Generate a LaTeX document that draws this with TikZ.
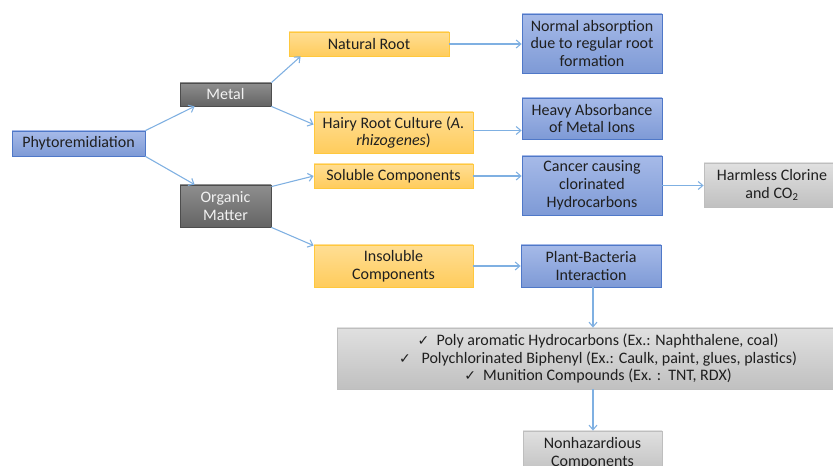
\documentclass[tikz,border=0pt]{standalone}
\usepackage{fontspec}
\setmainfont{Carlito}
\newfontfamily\symfont{DejaVu Sans}
\usetikzlibrary{arrows.meta,calc}
\definecolor{arr}{HTML}{7FB0E2}
\definecolor{bluetop}{HTML}{A6BAE8}
\definecolor{bluebot}{HTML}{7E9AD6}
\definecolor{blueedge}{HTML}{4F78C8}
\definecolor{yeltop}{HTML}{FFDE94}
\definecolor{yelbot}{HTML}{FFCC5C}
\definecolor{yeledge}{HTML}{FFC83D}
\definecolor{dgtop}{HTML}{8E8E8E}
\definecolor{dgbot}{HTML}{646464}
\definecolor{dgedge}{HTML}{4D4D4D}
\definecolor{lgtop}{HTML}{E0E0E0}
\definecolor{lgbot}{HTML}{C0C0C0}
\definecolor{lgedge}{HTML}{BEBEBE}
\newcommand{\chk}{{\symfont\fontsize{10.5pt}{10pt}\selectfont ✓}}
\tikzset{
  basebox/.style={rectangle, inner sep=0pt, align=center, line width=0.6pt,
     font=\fontsize{12pt}{13.3pt}\selectfont},
  bluebox/.style={basebox, draw=blueedge, top color=bluetop, bottom color=bluebot, text=black!88},
  yelbox/.style={basebox, draw=yeledge, top color=yeltop, bottom color=yelbot, text=black!88},
  dgbox/.style={basebox, draw=dgedge, top color=dgtop, bottom color=dgbot, text=white!95!black},
  lgbox/.style={basebox, draw=lgedge, top color=lgtop, bottom color=lgbot, text=black!88},
  conn/.style={draw=arr, line width=0.8pt, -{Straight Barb[length=3.5pt,width=6pt]}}
}
\begin{document}
\begin{tikzpicture}[x=0.75pt,y=-0.75pt]
\useasboundingbox (0,0) rectangle (833,466);
\fill[white] (0,0) rectangle (833,466);
\node[bluebox, minimum width=99.75pt, minimum height=18.75pt] (phyto) at (78.5,143.5) {Phytoremidiation};
\node[dgbox, minimum width=68.25pt, minimum height=17.25pt] (metal) at (225.5,94.5) {Metal};
\node[dgbox, minimum width=68.25pt, minimum height=31.5pt] (organic) at (225.5,206) {Organic\\Matter};
\node[yelbox, minimum width=120pt, minimum height=18pt] (natural) at (369,44) {Natural Root};
\node[yelbox, minimum width=119.25pt, minimum height=30.75pt] (hairy) at (393.5,132.5) {Hairy Root Culture (\textit{A.}\\\textit{rhizogenes})};
\node[yelbox, minimum width=119.25pt, minimum height=18pt] (soluble) at (393.5,176) {Soluble Components};
\node[yelbox, minimum width=119.25pt, minimum height=31.5pt] (insoluble) at (393.5,266) {Insoluble\\Components};
\node[bluebox, minimum width=105pt, minimum height=44.25pt] (normal) at (592,43.5) {Normal absorption\\due to regular root\\formation};
\node[bluebox, minimum width=105pt, minimum height=30.75pt] (heavy) at (592,118.5) {Heavy Absorbance\\of Metal Ions};
\node[bluebox, minimum width=105pt, minimum height=44.25pt] (cancer) at (592,185.5) {Cancer causing\\clorinated\\Hydrocarbons};
\node[lgbox, minimum width=102pt, minimum height=33pt] (harmless) at (772,185) {Harmless Clorine\\and CO\textsubscript{2}};
\node[bluebox, minimum width=105pt, minimum height=31.5pt] (plant) at (591,266) {Plant-Bacteria\\Interaction};
\node[lgbox, minimum width=391.5pt, minimum height=45.75pt] (big) at (598,358.5) {\chk\ \ Poly aromatic Hydrocarbons (Ex.: Naphthalene, coal)\\\chk\ \ \ Polychlorinated Biphenyl (Ex.: Caulk, paint, glues, plastics)\\\chk\ \ Munition Compounds (Ex. :\ \ TNT, RDX)};
\node[lgbox, minimum width=104.25pt, minimum height=33pt] (nonhaz) at (592.5,453) {Nonhazardious\\Components};
\draw[conn] (phyto.north east) -- ($(metal.south west)+(15,0)$);
\draw[conn] (phyto.south east) -- ($(organic.north west)+(15,0)$);
\draw[conn] (metal.north east) -- ($(natural.south west)+(12,0)$);
\draw[conn] (metal.south east) -- ($(hairy.west)+(0,-8)$);
\draw[conn] ($(organic.north east)+(0,2)$) -- (soluble.west);
\draw[conn] (organic.south east) -- ($(insoluble.north west)+(0,1)$);
\draw[conn] (natural.east) -- (natural.east -| normal.west);
\draw[conn] ($(hairy.east)+(0,-2)$) -- ($(hairy.east -| heavy.west)+(0,-2)$);
\draw[conn] (soluble.east) -- (soluble.east -| cancer.west);
\draw[conn] (cancer.east) -- (cancer.east -| harmless.west);
\draw[conn] (insoluble.east) -- (insoluble.east -| plant.west);
\draw[conn] ($(plant.south)+(2,0)$) -- ($(plant.south |- big.north)+(2,0)$);
\draw[conn] ($(nonhaz.north |- big.south)+(0.5,0)$) -- ($(nonhaz.north)+(0.5,0)$);
\end{tikzpicture}
\end{document}
